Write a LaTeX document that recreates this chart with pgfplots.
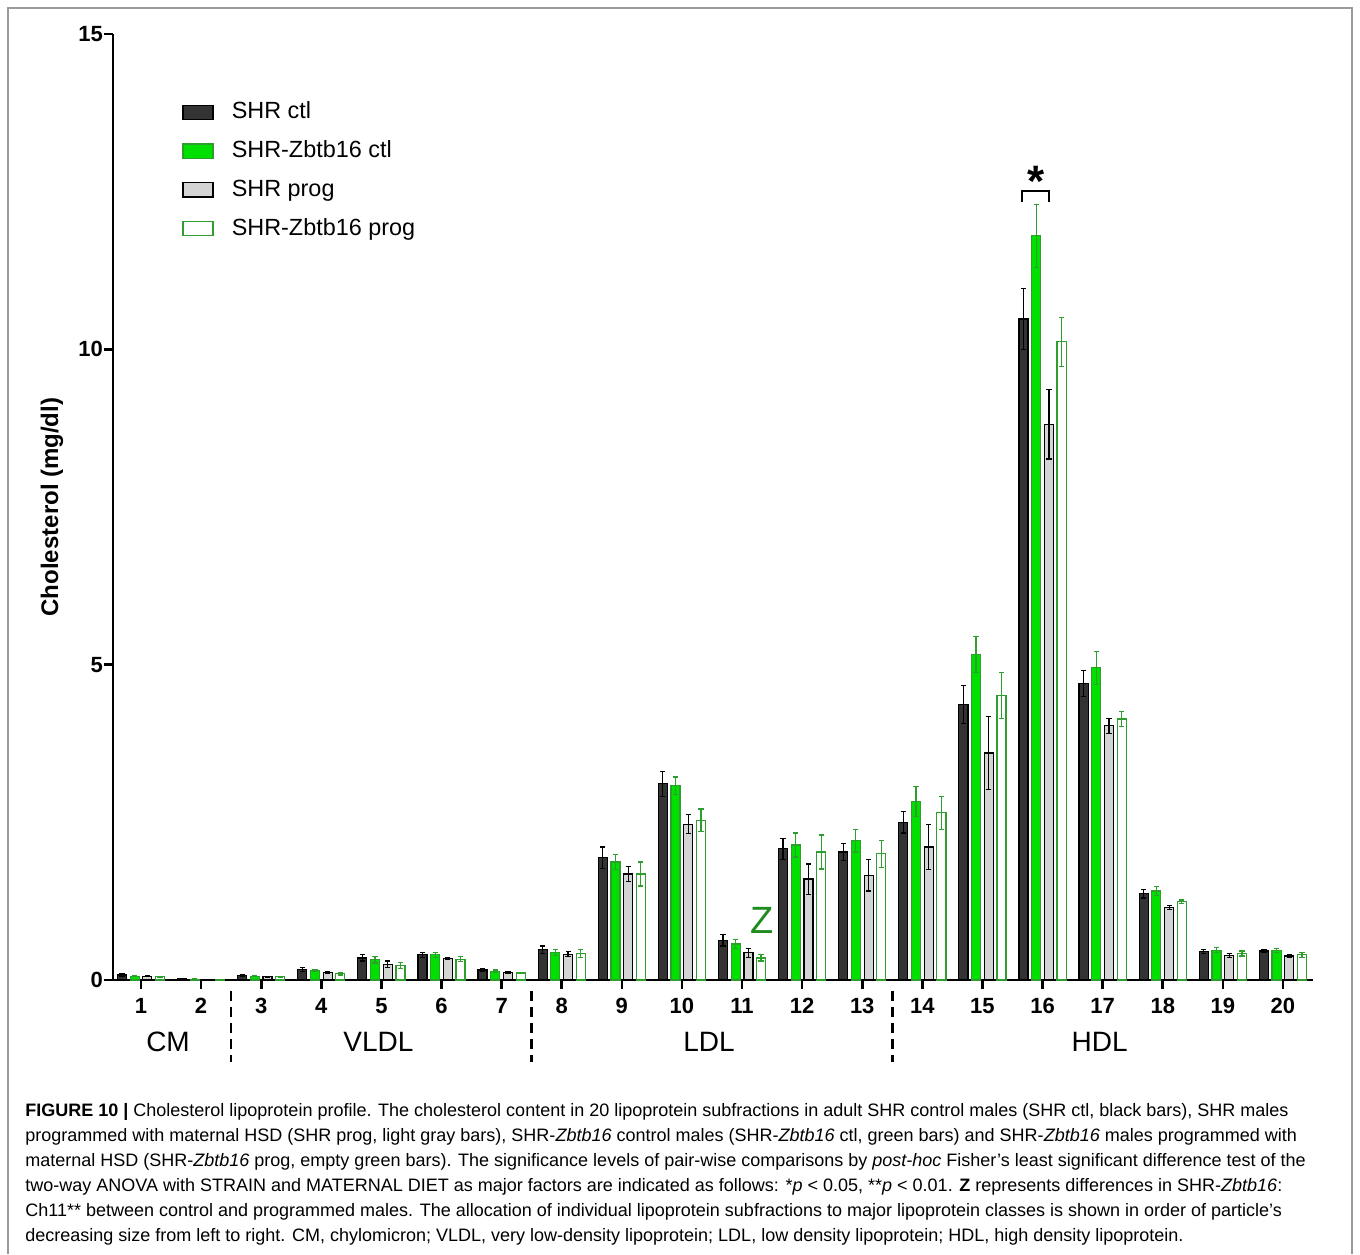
\documentclass[border=0pt]{standalone}
\usepackage{pgfplots}
\pgfplotsset{compat=1.18}
\usepackage{pgfplotstable}
\usepackage{fontspec}
\setmainfont{Liberation Sans}

\definecolor{ctlblack}{HTML}{333333}
\definecolor{zgreen}{HTML}{00E000}
\definecolor{zedge}{HTML}{2E9E2E}
\definecolor{proggray}{HTML}{D4D4D4}
\definecolor{framegray}{HTML}{9A9A9A}
\definecolor{zlabel}{HTML}{1E8C1E}

% cholesterol (mg/dl) per subfraction: mean and error
\pgfplotstableread{
x  y     e
1  0.08  0.02
2  0.02  0.005
3  0.07  0.02
4  0.17  0.03
5  0.35  0.05
6  0.40  0.04
7  0.16  0.02
8  0.48  0.06
9  1.94  0.17
10 3.11  0.20
11 0.63  0.09
12 2.08  0.17
13 2.03  0.13
14 2.50  0.17
15 4.37  0.30
16 10.48 0.48
17 4.70  0.21
18 1.37  0.07
19 0.45  0.03
20 0.46  0.03
}\shrctl
\pgfplotstableread{
x  y     e
1  0.06  0.01
2  0.01  0.005
3  0.06  0.01
4  0.15  0.02
5  0.32  0.05
6  0.40  0.04
7  0.14  0.02
8  0.44  0.05
9  1.87  0.12
10 3.08  0.14
11 0.57  0.07
12 2.14  0.19
13 2.21  0.18
14 2.83  0.24
15 5.16  0.29
16 11.80 0.50
17 4.95  0.26
18 1.41  0.07
19 0.47  0.04
20 0.47  0.03
}\zbtbctl
\pgfplotstableread{
x  y     e
1  0.06  0.01
2  0.01  0.003
3  0.05  0.01
4  0.12  0.02
5  0.25  0.05
6  0.34  0.02
7  0.12  0.01
8  0.41  0.04
9  1.68  0.12
10 2.47  0.15
11 0.43  0.07
12 1.60  0.24
13 1.66  0.25
14 2.11  0.36
15 3.60  0.58
16 8.81  0.55
17 4.03  0.12
18 1.15  0.03
19 0.39  0.03
20 0.38  0.02
}\shrprog
\pgfplotstableread{
x  y     e
1  0.05  0.01
2  0.01  0.003
3  0.05  0.01
4  0.10  0.02
5  0.23  0.05
6  0.33  0.04
7  0.11  0.01
8  0.42  0.06
9  1.68  0.19
10 2.53  0.18
11 0.35  0.05
12 2.03  0.27
13 2.00  0.21
14 2.65  0.26
15 4.51  0.36
16 10.12 0.39
17 4.14  0.12
18 1.24  0.03
19 0.42  0.04
20 0.40  0.04
}\zbtbprog

\begin{document}
\begin{tikzpicture}
% page area and frame
\path (0pt,0pt) rectangle (680pt,627pt);
\draw[framegray, line width=0.6pt] (4pt,0pt) -- (4pt,623pt) -- (676pt,623pt) -- (676pt,0pt);

\begin{axis}[
  at={(56.5pt,137pt)}, anchor=south west,
  scale only axis, width=600pt, height=473pt,
  xmin=0.534, xmax=20.5, ymin=0, ymax=15,
  axis x line*=bottom, axis y line*=left,
  axis line style={line width=1.3pt},
  xtick={1,...,20}, ytick={0,5,10,15},
  tick align=outside, major tick length=4.5pt,
  tick style={line width=1.3pt, black},
  /pgf/number format/assume math mode=true,
  ticklabel style={font=\bfseries\fontsize{11}{13}\selectfont},
  xticklabel style={yshift=-1pt},
  yticklabel style={xshift=3pt},
  ylabel={\bfseries Cholesterol (mg/dl)},
  every axis y label/.style={at={(axis description cs:-0.0508,0.5)}, rotate=90, anchor=center, font=\fontsize{12}{14}\selectfont},
  ybar, bar width=0.15,
  clip=false,
  legend style={at={(axis description cs:0.0525,0.936)}, anchor=north west,
    draw=none, fill=none, font=\fontsize{11.7}{14}\selectfont, row sep=5.85pt,
    nodes={inner sep=1pt, text height=9pt, text depth=2.5pt},
    /tikz/every odd column/.append style={column sep=8pt}},
  legend cell align=left,
  legend image code/.code={\draw[#1, line width=0.7pt] (0pt,-3.6pt) rectangle (15pt,3.6pt);},
]
\addplot[bar shift=-0.317, fill=ctlblack, draw=black, line width=0.6pt,
  error bars/.cd, y dir=both, y explicit,
  error bar style={black, line width=0.6pt}, error mark options={black, mark size=1.3pt, line width=0.6pt, rotate=90}]
  table[x=x, y=y, y error=e] {\shrctl};
\addlegendentry{SHR ctl}
\addplot[bar shift=-0.106, fill=zgreen, draw=zedge, line width=0.6pt,
  error bars/.cd, y dir=both, y explicit,
  error bar style={zedge, line width=0.6pt}, error mark options={zedge, mark size=1.3pt, line width=0.6pt, rotate=90}]
  table[x=x, y=y, y error=e] {\zbtbctl};
\addlegendentry{SHR-Zbtb16 ctl}
\addplot[bar shift=0.106, fill=proggray, draw=black, line width=0.6pt,
  error bars/.cd, y dir=both, y explicit,
  error bar style={black, line width=0.6pt}, error mark options={black, mark size=1.3pt, line width=0.6pt, rotate=90}]
  table[x=x, y=y, y error=e] {\shrprog};
\addlegendentry{SHR prog}
\addplot[bar shift=0.317, fill=white, draw=zedge, line width=0.6pt,
  error bars/.cd, y dir=both, y explicit,
  error bar style={zedge, line width=0.6pt}, error mark options={zedge, mark size=1.3pt, line width=0.6pt, rotate=90}]
  table[x=x, y=y, y error=e] {\zbtbprog};
\addlegendentry{SHR-Zbtb16 prog}

% lipoprotein class separators and names
\draw[line width=1.3pt, dash pattern=on 5pt off 3pt] (axis cs:2.5,-0.17) -- (axis cs:2.5,-1.3);
\draw[line width=1.3pt, dash pattern=on 5pt off 3pt] (axis cs:7.5,-0.17) -- (axis cs:7.5,-1.3);
\draw[line width=1.3pt, dash pattern=on 5pt off 3pt] (axis cs:13.5,-0.17) -- (axis cs:13.5,-1.3);
\node[anchor=base, font=\fontsize{14}{16}\selectfont] at (axis cs:1.45,-1.14) {CM};
\node[anchor=base, font=\fontsize{14}{16}\selectfont] at (axis cs:4.95,-1.14) {VLDL};
\node[anchor=base, font=\fontsize{14}{16}\selectfont] at (axis cs:10.45,-1.14) {LDL};
\node[anchor=base, font=\fontsize{14}{16}\selectfont] at (axis cs:16.95,-1.14) {HDL};

% significance marks
\draw[line width=1pt] (axis cs:15.66,12.34) |- (axis cs:16.11,12.51) -- (axis cs:16.11,12.34);
\node[anchor=base, inner sep=0pt, font=\bfseries\fontsize{22}{22}\selectfont] at (axis cs:15.885,12.42) {*};
\node[anchor=base, inner sep=0pt, text=zlabel, font=\fontsize{19}{19}\selectfont] at (axis cs:11.33,0.745) {Z};
\end{axis}

% caption
\begin{scope}[every node/.style={anchor=base west, inner sep=0pt, font=\fontsize{9}{11}\selectfont}]
\node at (12.5pt,69pt) {\textbf{FIGURE 10 |} Cholesterol lipoprotein profile. The cholesterol content in 20 lipoprotein subfractions in adult SHR control males (SHR ctl, black bars), SHR males};
\node at (12.5pt,56.5pt) {programmed with maternal HSD (SHR prog, light gray bars), SHR-\textit{Zbtb16} control males (SHR-\textit{Zbtb16} ctl, green bars) and SHR-\textit{Zbtb16} males programmed with};
\node at (12.5pt,44pt) {maternal HSD (SHR-\textit{Zbtb16} prog, empty green bars). The significance levels of pair-wise comparisons by \textit{post-hoc} Fisher’s least significant difference test of the};
\node at (12.5pt,31.5pt) {two-way ANOVA with STRAIN and MATERNAL DIET as major factors are indicated as follows: *\textit{p} < 0.05, **\textit{p} < 0.01. \textbf{Z} represents differences in SHR-\textit{Zbtb16}:};
\node at (12.5pt,19pt) {Ch11** between control and programmed males. The allocation of individual lipoprotein subfractions to major lipoprotein classes is shown in order of particle’s};
\node at (12.5pt,6.5pt) {decreasing size from left to right. CM, chylomicron; VLDL, very low-density lipoprotein; LDL, low density lipoprotein; HDL, high density lipoprotein.};
\end{scope}
\end{tikzpicture}
\end{document}
